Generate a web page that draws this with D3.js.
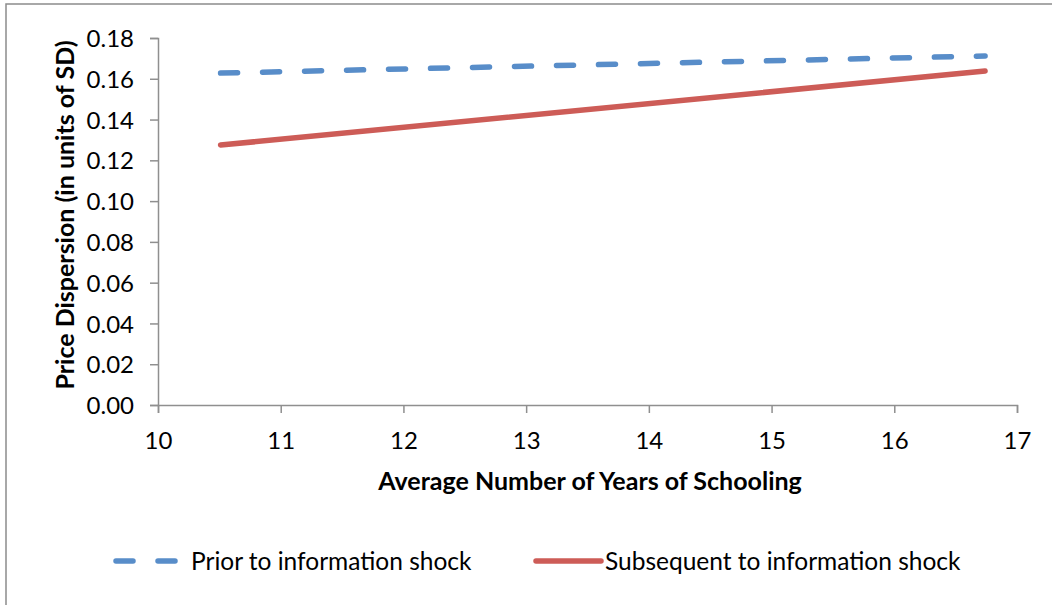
<!DOCTYPE html>
<html><head><meta charset="utf-8">
<script src="https://cdn.jsdelivr.net/npm/d3@7"></script>
<style>body{margin:0;background:#fff}svg{display:block}text{font-family:Lato,"Open Sans",sans-serif}</style>
</head><body>
<svg id="c" width="1052" height="605"></svg>
<script>
const xTicks = [10, 11, 12, 13, 14, 15, 16, 17];
const yTicks = [0, 0.02, 0.04, 0.06, 0.08, 0.10, 0.12, 0.14, 0.16, 0.18];
const schooling = [10.51, 16.74];
const priorValues = [0.1628, 0.1712];
const subsequentValues = [0.1275, 0.1638];
const seriesNames = ["Prior to information shock", "Subsequent to information shock"];

const svg = d3.select("#c");
svg.append("rect").attr("x", 6).attr("y", 4).attr("width", 1100).attr("height", 700)
  .attr("fill", "#fff").attr("stroke", "#8c8c8c").attr("stroke-width", 1.5);

const x = d3.scaleLinear().domain([10, 17]).range([158, 1017]);
const y = d3.scaleLinear().domain([0, 0.18]).range([405, 38]);

const axisColor = "#8f8f8f";
const gx = svg.append("g").attr("transform", "translate(0,405)")
  .call(d3.axisBottom(x).tickValues(xTicks).tickFormat(d3.format("d")).tickSizeOuter(0).tickSize(8));
const gy = svg.append("g").attr("transform", "translate(158,0)")
  .call(d3.axisLeft(y).tickValues(yTicks).tickFormat(d3.format(".2f")).tickSizeOuter(0).tickSize(8).tickPadding(16));
[gx, gy].forEach(g => {
  g.select(".domain").attr("stroke", axisColor).attr("stroke-width", 1.5);
  g.selectAll(".tick line").attr("stroke", axisColor).attr("stroke-width", 1.5);
  g.selectAll(".tick text").attr("font-size", 24).attr("fill", "#000").attr("font-family", "Lato, sans-serif");
});
gx.selectAll(".tick text").attr("y", 44).attr("dy", 0);
gy.selectAll(".tick text").attr("dy", "0.36em");

svg.append("text").attr("x", 590).attr("y", 490).attr("text-anchor", "middle")
  .attr("font-size", 25).attr("font-weight", "bold").text("Average Number of Years of Schooling");
svg.append("text").attr("transform", "translate(74,215) rotate(-90)").attr("text-anchor", "middle")
  .attr("font-size", 25).attr("font-weight", "bold").text("Price Dispersion (in units of SD)");

const line = d3.line().x(d => x(d[0])).y(d => y(d[1]));
const blue = "#588dc9", red = "#cd5c57";
svg.append("path").datum(schooling.map((s, i) => [s, subsequentValues[i]]))
  .attr("d", line).attr("fill", "none").attr("stroke", red).attr("stroke-width", 5.5).attr("stroke-linecap", "round");
svg.append("path").datum(schooling.map((s, i) => [s, priorValues[i]]))
  .attr("d", line).attr("fill", "none").attr("stroke", blue).attr("stroke-width", 5.5)
  .attr("stroke-linecap", "round").attr("stroke-dasharray", "17,25");

// legend
svg.append("line").attr("x1", 116).attr("x2", 176).attr("y1", 561).attr("y2", 561)
  .attr("stroke", blue).attr("stroke-width", 5.5).attr("stroke-linecap", "round").attr("stroke-dasharray", "17,25");
svg.append("text").attr("x", 191).attr("y", 570).attr("font-size", 24.5).text(seriesNames[0]);
svg.append("line").attr("x1", 536).attr("x2", 601).attr("y1", 561).attr("y2", 561)
  .attr("stroke", red).attr("stroke-width", 5.5).attr("stroke-linecap", "round");
svg.append("text").attr("x", 605).attr("y", 570).attr("font-size", 24.5).text(seriesNames[1]);
</script>
</body></html>
